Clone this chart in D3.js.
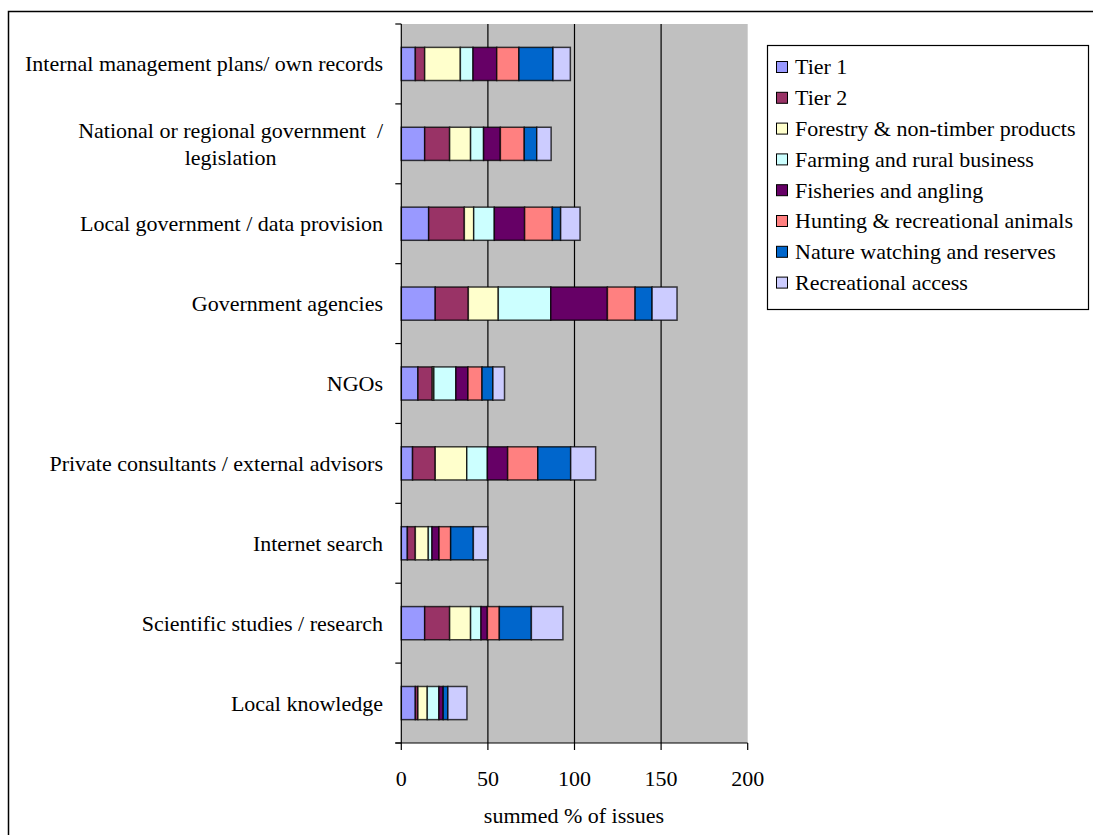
<!DOCTYPE html>
<html>
<head>
<meta charset="utf-8">
<script src="https://cdn.jsdelivr.net/npm/d3@7"></script>
<style>
  html, body { margin: 0; padding: 0; background: #fff; }
  svg { display: block; font-family: "Liberation Serif", "Times New Roman", serif; }
  text { white-space: pre; }
</style>
</head>
<body>
<svg id="chart" width="1093" height="835"></svg>
<script>
// Information sources, top to bottom
const categories = [
  "Internal management plans/ own records",
  "National or regional government  /\nlegislation",
  "Local government / data provision",
  "Government agencies",
  "NGOs",
  "Private consultants / external advisors",
  "Internet search",
  "Scientific studies / research",
  "Local knowledge"
];

const seriesNames = [
  "Tier 1",
  "Tier 2",
  "Forestry & non-timber products",
  "Farming and rural business",
  "Fisheries and angling",
  "Hunting & recreational animals",
  "Nature watching and reserves",
  "Recreational access"
];

const seriesColors = ["#9999FF", "#993366", "#FFFFCC", "#CCFFFF", "#660066", "#FF8080", "#0066CC", "#CCCCFF"];

// summed % of issues per series, one value per category (same order as categories)
const tier1      = [8.1, 13.5, 15.8, 19.6, 9.6, 6.5, 3.5, 13.5, 8.1];
const tier2      = [5.4, 14.4, 20.6, 19.1, 8.3, 13.1, 4.6, 14.4, 1.5];
const forestry   = [20.6, 12.1, 5.4, 17.3, 0.9, 18.2, 7.5, 12.1, 5.4];
const farming    = [7.3, 7.5, 11.9, 30.3, 12.7, 11.9, 2.1, 6.0, 6.7];
const fisheries  = [13.7, 9.7, 17.5, 32.7, 7.0, 11.7, 4.1, 3.7, 2.5];
const hunting    = [12.8, 13.8, 16.0, 16.0, 8.1, 17.4, 6.7, 6.9, 0.0];
const nature     = [19.7, 7.2, 4.8, 9.8, 6.3, 19.0, 13.1, 18.5, 2.7];
const recreation = [10.0, 8.3, 11.2, 14.4, 6.7, 14.4, 8.3, 18.2, 11.0];

const xTicks = [0, 50, 100, 150, 200];
const xTitle = "summed % of issues";

const seriesValues = [tier1, tier2, forestry, farming, fisheries, hunting, nature, recreation];

const FONT = 22;

const svg = d3.select("#chart");

// outer chart frame (open on the right and bottom)
svg.append("path")
  .attr("d", "M8.5,835 L8.5,11.5 L1093,11.5")
  .attr("fill", "none")
  .attr("stroke", "#000")
  .attr("stroke-width", 1.5);

const plot = { left: 401.3, right: 747.7, top: 24, bottom: 743 };

const x = d3.scaleLinear().domain([0, 200]).range([plot.left, plot.right]);
const y = d3.scaleBand().domain(d3.range(categories.length))
  .range([plot.top, plot.bottom]).paddingInner(0.585).paddingOuter(0.2925);

// plot background
svg.append("rect")
  .attr("x", plot.left).attr("y", plot.top)
  .attr("width", plot.right - plot.left).attr("height", plot.bottom - plot.top)
  .attr("fill", "#C0C0C0");

// vertical gridlines
svg.append("g").selectAll("line")
  .data(xTicks.filter(d => d > 0 && d < 200))
  .join("line")
  .attr("x1", d => x(d)).attr("x2", d => x(d))
  .attr("y1", plot.top).attr("y2", plot.bottom)
  .attr("stroke", "#000").attr("stroke-width", 1.2);

// stacked data
const rows = categories.map((c, i) => {
  const r = { idx: i };
  seriesNames.forEach((s, j) => { r[s] = seriesValues[j][i]; });
  return r;
});
const stacked = d3.stack().keys(seriesNames)(rows);

const layers = svg.append("g").selectAll("g")
  .data(stacked)
  .join("g")
  .attr("fill", (d, i) => seriesColors[i]);

layers.selectAll("rect")
  .data(d => d.filter(p => p[1] - p[0] > 0))
  .join("rect")
  .attr("x", d => x(d[0]))
  .attr("width", d => x(d[1]) - x(d[0]))
  .attr("y", d => y(d.data.idx))
  .attr("height", y.bandwidth())
  .attr("stroke", "#000")
  .attr("stroke-opacity", 0.75)
  .attr("stroke-width", 1.5);

// y axis: line plus outward ticks at category boundaries
const yAxis = svg.append("g");
yAxis.append("line")
  .attr("x1", plot.left).attr("x2", plot.left)
  .attr("y1", plot.top).attr("y2", plot.bottom)
  .attr("stroke", "#000").attr("stroke-width", 1.2);
const step = (plot.bottom - plot.top) / categories.length;
yAxis.selectAll("line.tick")
  .data(d3.range(categories.length + 1))
  .join("line")
  .attr("class", "tick")
  .attr("x1", plot.left - 6).attr("x2", plot.left)
  .attr("y1", d => plot.top + d * step).attr("y2", d => plot.top + d * step)
  .attr("stroke", "#000").attr("stroke-width", 1.2);

// category labels
const labels = svg.append("g")
  .selectAll("text")
  .data(categories)
  .join("text")
  .attr("font-size", FONT)
  .attr("fill", "#000")
  .attr("text-anchor", "end")
  .attr("x", 383)
  .attr("y", (d, i) => y(i) + y.bandwidth() / 2);

labels.each(function(d) {
  const lines = d.split("\n");
  const t = d3.select(this);
  if (lines.length === 1) {
    t.append("tspan").attr("dy", "0.34em").text(d);
  } else {
    // multi-line label, lines centred on each other
    t.attr("text-anchor", "middle");
    const tmp = t.append("tspan").text(lines[0]);
    const w = tmp.node().getComputedTextLength();
    tmp.remove();
    const cx = 383 - w / 2;
    t.attr("x", cx);
    lines.forEach((ln, k) => {
      t.append("tspan")
        .attr("x", cx)
        .attr("dy", k === 0 ? (0.34 - 0.6) + "em" : "1.2em")
        .text(ln);
    });
  }
});

// x axis
const xAxis = svg.append("g");
xAxis.append("line")
  .attr("x1", plot.left - 6).attr("x2", plot.right)
  .attr("y1", plot.bottom).attr("y2", plot.bottom)
  .attr("stroke", "#000").attr("stroke-width", 1.2);
xAxis.selectAll("line.tick")
  .data(xTicks)
  .join("line")
  .attr("class", "tick")
  .attr("x1", d => x(d)).attr("x2", d => x(d))
  .attr("y1", plot.bottom).attr("y2", plot.bottom + 7)
  .attr("stroke", "#000").attr("stroke-width", 1.2);
xAxis.selectAll("text")
  .data(xTicks)
  .join("text")
  .attr("x", d => x(d))
  .attr("y", 786)
  .attr("text-anchor", "middle")
  .attr("font-size", FONT)
  .text(d => d);

svg.append("text")
  .attr("x", (plot.left + plot.right) / 2 - 0.5)
  .attr("y", 823)
  .attr("text-anchor", "middle")
  .attr("font-size", FONT)
  .text(xTitle);

// legend
const legend = svg.append("g");
legend.append("rect")
  .attr("x", 767.5).attr("y", 45.5)
  .attr("width", 321).attr("height", 264)
  .attr("fill", "#fff")
  .attr("stroke", "#000").attr("stroke-width", 1.2);
const items = legend.selectAll("g.item")
  .data(seriesNames)
  .join("g")
  .attr("class", "item")
  .attr("transform", (d, i) => `translate(776, ${67 + i * 30.8})`);
items.append("rect")
  .attr("x", 0.5).attr("y", -5.5)
  .attr("width", 11).attr("height", 11)
  .attr("fill", (d, i) => seriesColors[i])
  .attr("stroke", "#000").attr("stroke-width", 1);
items.append("text")
  .attr("x", 19)
  .attr("dy", "0.34em")
  .attr("font-size", FONT)
  .text(d => d);
</script>
</body>
</html>
